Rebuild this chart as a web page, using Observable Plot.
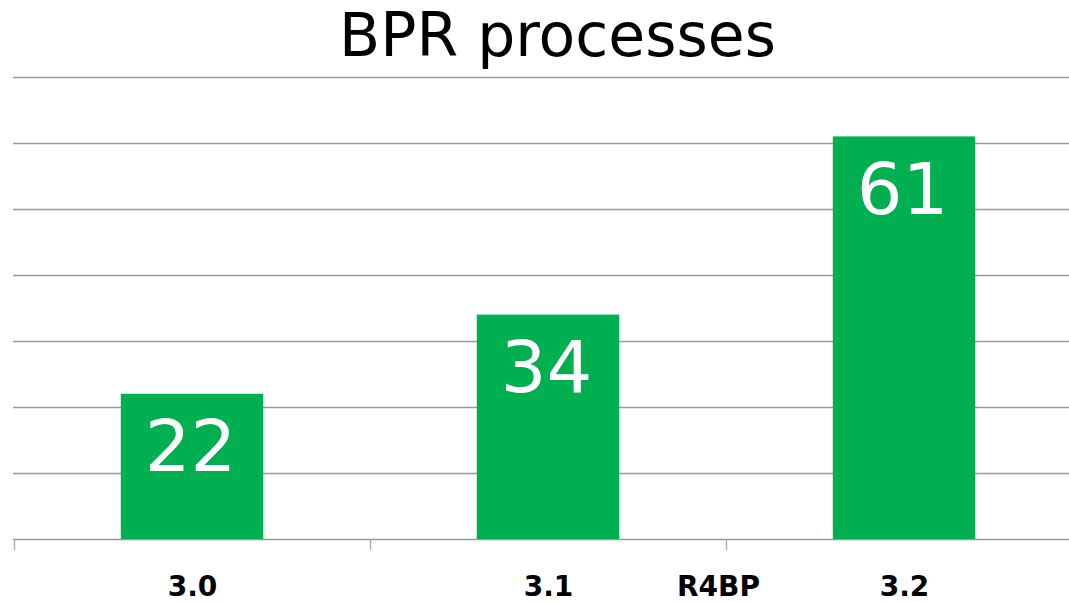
<!DOCTYPE html>
<html>
<head>
<meta charset="utf-8">
<script src="https://cdn.jsdelivr.net/npm/d3@7"></script>
<script src="https://cdn.jsdelivr.net/npm/@observablehq/plot@0.6"></script>
<style>
  html, body { margin: 0; padding: 0; background: #fff; }
  #title {
    height: 70px; box-sizing: border-box; padding-top: 5px; padding-left: 46px;
    font: 60px/60px "DejaVu Sans", sans-serif; text-align: center; color: #000;
    white-space: nowrap; overflow: visible;
  }
  #chart svg { display: block; overflow: hidden; }
</style>
</head>
<body>
<div id="title">BPR processes</div>
<div id="chart"></div>
<script>
const categories = ["3.0", "3.1", "3.2"];
const values = [22, 34, 61];
const yTicks = [0, 10, 20, 30, 40, 50, 60, 70];
const extraLabel = {category: "3.2", text: "R4BP"};

const data = categories.map((c, i) => ({category: c, value: values[i]}));

const W = 1069, H = 532;
const mL = 14, mR = -13;
const bandwidth = (W - mR - mL) / categories.length;

const chart = Plot.plot({
  width: W,
  height: H,
  marginLeft: mL,
  marginRight: mR,
  marginTop: 7,
  marginBottom: 63,
  style: {fontFamily: "DejaVu Sans, sans-serif", background: "#fff"},
  x: {domain: categories, padding: 0, axis: null},
  y: {domain: [0, 70], axis: null},
  marks: [
    Plot.ruleY(yTicks, {stroke: "#9a9a9a", strokeWidth: 1.3, insetLeft: -1}),
    Plot.ruleX(categories, {x: d => d, y1: 0, y2: 0, insetBottom: -11, dx: -bandwidth / 2, stroke: "#a6a6a6", strokeWidth: 1.3}),
    Plot.barY(data, {x: "category", y: "value", fill: "#00b050", insetLeft: bandwidth * 0.3, insetRight: bandwidth * 0.3}),
    Plot.text(data, {x: "category", y: "value", text: d => String(d.value), fill: "#fff", fontSize: 72, dx: -2, dy: 54, lineAnchor: "middle"}),
    Plot.axisX({tickSize: 0, tickPadding: 37, fontSize: 28, fontWeight: "bold", fill: "#000", label: null}),
    Plot.text([extraLabel], {x: "category", y: 0, text: "text", dx: -186, dy: 37, lineAnchor: "top", fontSize: 28, fontWeight: "bold", fill: "#000"})
  ]
});
document.getElementById("chart").appendChild(chart);
</script>
</body>
</html>
